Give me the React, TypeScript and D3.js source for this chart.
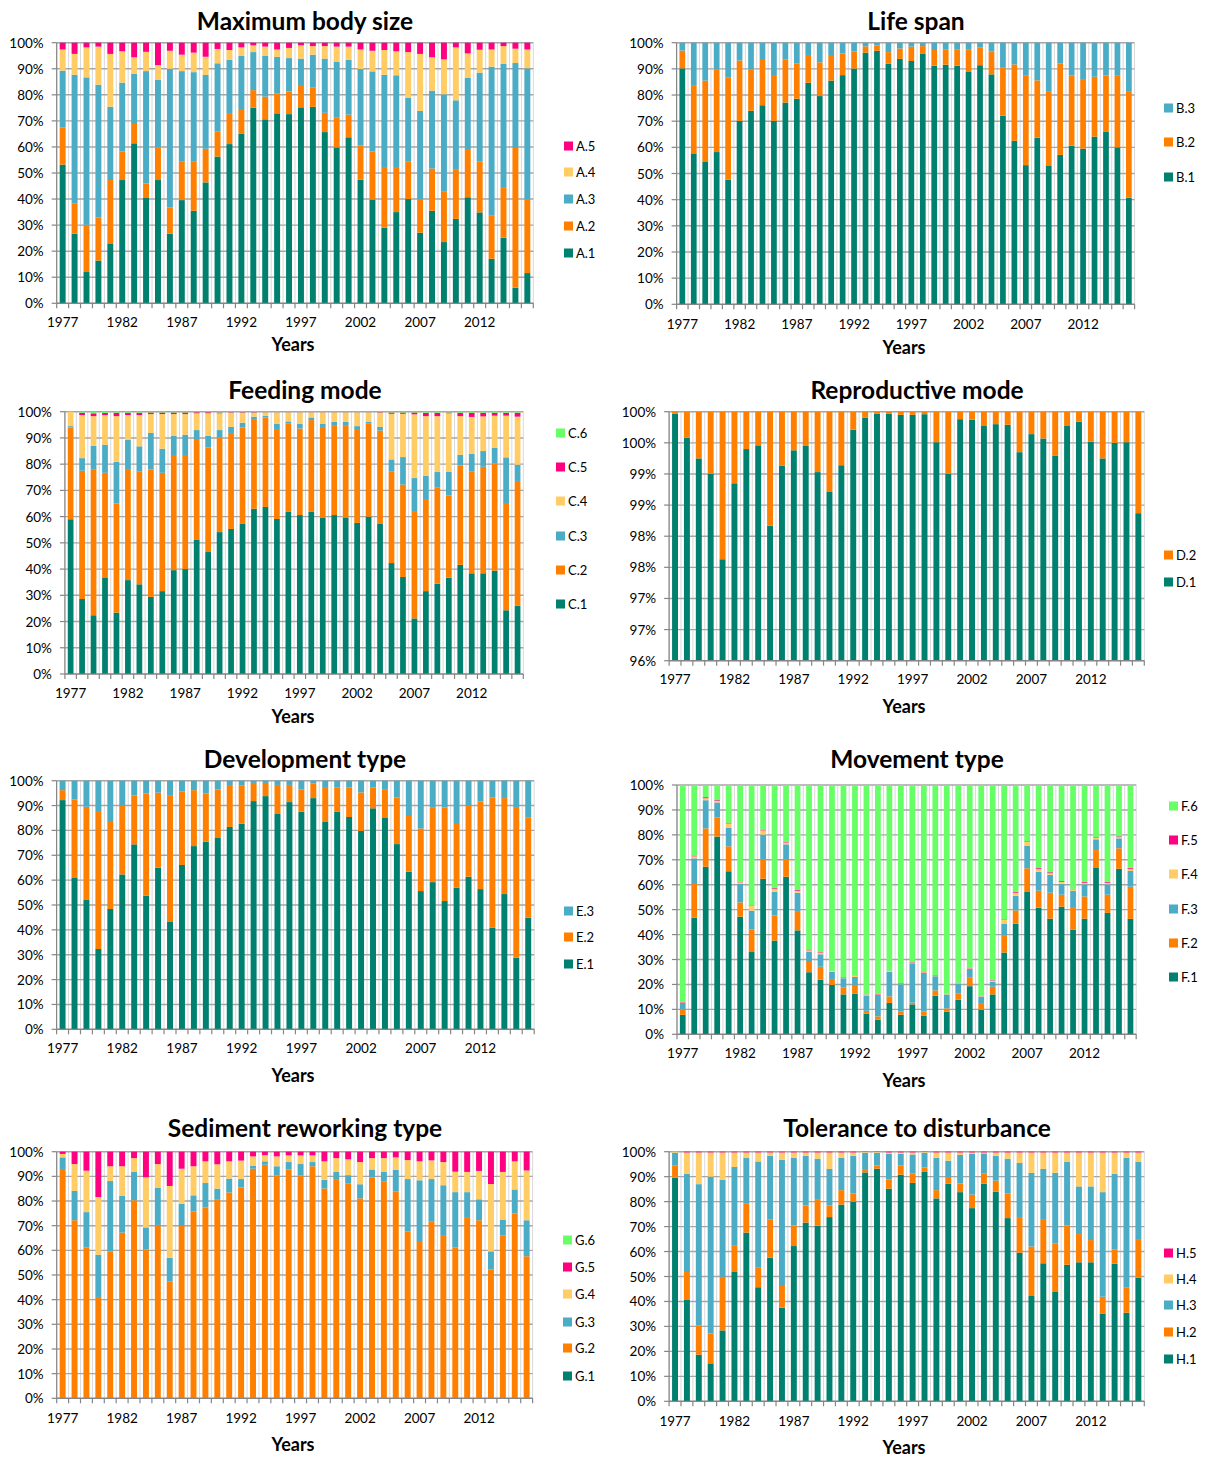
import React from 'react';
import * as d3 from 'd3';

const years = ['1977','1978','1979','1980','1981','1982','1983','1984','1985','1986','1987','1988','1989','1990','1991','1992','1993','1994','1995','1996','1997','1998','1999','2000','2001','2002','2003','2004','2005','2006','2007','2008','2009','2010','2011','2012','2013','2014','2015','2016'];
const yearLabels = ['1977','1982','1987','1992','1997','2002','2007','2012'];

// Cumulative percentage at the top of each class (last class reaches 100%)
// A: Maximum body size
const A1 = [53.2,26.7,12.0,16.4,23.0,47.3,61.4,40.4,47.3,26.7,39.6,35.5,46.4,56.3,61.1,65.0,75.1,70.6,72.9,72.6,75.2,75.4,65.7,59.8,63.7,47.4,39.8,29.0,35.0,40.0,27.1,35.5,23.5,32.4,40.7,34.9,17.1,25.2,6.0,11.6];
const A2 = [67.4,38.4,30.1,32.9,47.3,58.2,68.8,46.0,59.8,36.8,54.3,54.3,59.3,66.0,73.0,74.2,81.8,79.3,80.6,81.3,83.4,82.9,73.1,71.4,72.4,60.6,58.3,52.3,52.3,54.5,40.0,51.7,42.8,51.5,59.2,54.5,33.8,44.6,59.6,40.0];
const A3 = [89.3,87.7,86.7,83.9,75.4,84.7,88.0,89.1,85.7,90.0,89.1,88.7,87.6,92.1,93.4,94.9,96.4,94.9,94.6,94.1,93.9,95.4,93.9,92.6,93.4,89.9,89.0,87.7,87.5,78.9,73.8,81.6,80.2,77.9,86.6,88.5,90.8,91.9,92.2,90.2];
const A4 = [97.4,95.7,98.2,98.5,95.7,96.7,94.4,96.5,91.4,96.9,95.4,96.2,94.6,97.6,97.2,98.2,99.0,98.5,97.4,98.0,99.0,98.7,98.7,98.5,98.5,97.4,96.9,97.2,96.7,96.4,95.7,94.4,93.6,98.2,95.9,97.3,97.4,98.7,97.7,97.4];

// B: Life span
const B1 = [90.2,57.7,54.4,58.2,47.6,70.1,74.0,76.1,70.1,77.1,78.6,84.7,79.6,85.5,87.6,90.1,96.2,96.9,92.0,93.8,93.0,95.7,91.2,91.6,91.2,88.8,91.4,87.9,72.1,62.5,53.2,63.7,53.1,57.1,60.6,59.5,64.1,65.9,60.0,40.8];
const B2 = [97.0,83.8,85.5,89.9,86.8,93.2,89.9,93.4,87.3,93.5,92.0,95.3,92.5,95.3,95.9,96.7,98.6,99.0,96.4,97.8,98.5,98.7,97.2,97.5,97.3,97.3,98.1,96.7,90.4,91.7,87.6,85.6,81.5,92.1,87.5,86.1,87.0,87.5,87.6,81.5];

// C: Feeding mode
const C1 = [59.0,28.6,22.4,36.6,23.4,35.8,34.2,29.4,31.6,39.6,40.0,51.3,46.5,54.1,55.3,57.4,63.0,63.7,59.1,61.8,60.6,61.8,59.5,60.6,59.7,57.6,60.0,57.2,42.3,37.0,21.2,31.6,34.4,36.7,41.6,38.4,38.4,39.4,24.3,26.0];
const C2 = [94.0,77.5,78.1,76.7,65.0,77.8,77.3,78.0,76.7,83.5,83.5,89.6,86.4,90.3,91.9,94.0,97.2,97.8,93.4,95.6,93.6,96.8,94.2,94.9,94.9,93.4,95.6,92.8,77.3,72.2,61.8,66.7,71.2,68.1,79.5,77.3,79.0,80.2,65.2,73.6];
const C3 = [94.5,82.3,87.0,87.4,80.9,89.2,86.8,91.9,85.9,90.9,91.2,93.0,90.9,93.0,94.2,95.8,98.1,98.4,95.3,96.3,95.3,97.8,95.3,96.1,96.1,94.5,96.1,94.2,81.8,82.7,74.7,75.5,77.0,77.0,83.6,84.0,85.0,86.3,82.6,79.8];
const C4 = [100,98.7,98.3,98.7,98.3,98.7,98.7,99.1,99.1,99.1,99.1,99.4,99.4,99.4,99.6,99.6,99.6,99.7,99.7,99.7,99.7,99.7,99.7,99.7,99.7,99.7,99.7,99.6,99.2,99.2,99.0,98.3,98.3,99.4,98.3,98.0,98.2,98.5,98.5,98.1];
const C5 = [100,99.6,99.4,99.5,99.6,99.6,99.6,99.7,99.7,99.7,99.7,99.8,99.8,99.7,99.8,99.8,99.8,99.8,99.8,99.8,99.8,99.8,99.8,99.8,99.8,99.8,99.8,99.8,99.7,99.7,99.7,99.6,99.6,99.7,99.6,99.6,99.6,99.6,99.6,99.6];

// D: Reproductive mode
const D1 = [99.97,99.58,99.25,99.00,97.63,98.85,99.40,99.46,98.17,99.13,99.38,99.45,99.03,98.71,99.14,99.71,99.90,99.97,99.97,99.95,99.95,99.96,99.51,99.00,99.88,99.87,99.77,99.80,99.79,99.35,99.64,99.57,99.29,99.77,99.84,99.52,99.25,99.50,99.51,98.37];

// E: Development type
const E1 = [92.2,61.1,52.0,32.3,48.4,62.3,74.4,53.8,65.0,43.4,66.1,73.7,75.5,77.2,81.4,82.7,91.8,93.8,86.6,91.4,87.5,93.0,83.4,87.5,85.4,79.8,88.9,85.0,74.5,63.4,55.6,59.2,51.6,57.0,61.4,56.4,40.9,54.4,28.8,44.9];
const E2 = [96.2,92.5,89.5,87.8,83.4,89.9,94.0,94.9,95.2,94.2,95.7,96.2,94.9,96.5,97.9,98.0,99.1,99.1,98.3,98.3,96.4,98.8,97.1,97.2,97.2,95.3,97.3,96.6,93.2,85.8,80.8,89.1,89.3,82.6,89.9,91.6,93.3,93.0,89.4,85.3];

// F: Movement type
const F1 = [7.8,46.8,67.2,79.3,65.4,47.2,33.0,62.4,37.6,63.2,41.7,24.9,21.9,19.8,16.0,16.3,8.3,5.9,12.6,7.9,12.0,7.4,15.5,9.1,13.9,19.3,9.8,16.0,32.8,44.4,57.1,50.8,46.4,51.2,42.0,46.4,66.7,48.7,66.4,46.3];
const F2 = [10.0,60.3,82.6,87.0,75.4,52.9,42.1,70.1,47.7,70.1,49.1,29.0,27.1,22.2,18.7,19.4,9.4,7.2,15.2,9.1,12.7,9.1,17.6,10.4,16.3,22.9,12.2,19.1,39.8,49.7,66.6,57.6,56.8,56.0,50.7,55.3,73.9,56.0,74.6,59.2];
const F3 = [12.6,70.6,93.9,93.0,82.9,60.4,49.6,80.1,57.2,76.2,56.8,33.2,32.1,25.1,22.5,23.0,15.6,15.8,25.1,20.1,28.5,24.6,23.3,16.0,20.2,26.3,15.2,21.1,44.4,55.6,75.7,65.2,64.0,60.4,57.6,60.2,78.2,60.2,78.6,65.5];
const F4 = [12.8,71.4,94.7,93.6,84.6,61.0,51.5,81.8,58.3,76.9,57.6,33.7,32.8,25.4,22.7,23.4,15.9,16.0,25.4,20.3,28.7,24.9,23.5,16.3,20.5,26.5,15.4,21.5,45.9,56.8,77.3,66.4,64.6,61.2,58.2,60.8,78.9,60.8,79.1,66.4];
const F5 = [13.0,71.7,95.1,93.9,84.9,61.2,51.7,82.1,58.6,77.1,57.9,34.0,33.0,25.5,22.9,23.5,16.0,16.2,25.5,20.5,28.9,25.0,23.7,16.4,20.7,26.6,15.5,21.7,46.1,57.1,77.5,66.7,65.0,61.5,58.4,61.1,79.1,61.1,79.4,66.8];

// G: Sediment reworking type
const G1 = [0,0,0,0,0,0,0,0,0,0,0,0,0,0,0,0,0,0,0,0,0,0,0,0,0,0,0,0,0,0,0,0,0,0,0,0,0,0,0,0];
const G2 = [93.0,72.2,61.2,41.1,59.5,67.2,80.3,60.4,70.3,47.3,69.9,75.7,77.4,80.5,83.5,85.5,93.1,94.7,90.4,92.8,90.4,94.1,85.1,88.9,87.2,81.1,89.5,87.8,83.8,67.7,63.4,71.8,66.2,61.2,73.5,72.2,52.3,66.1,74.9,57.6];
const G3 = [97.7,84.1,75.5,58.2,88.1,82.2,91.8,69.3,85.3,57.0,78.9,82.3,87.3,85.0,89.1,88.9,94.2,96.1,94.1,95.8,95.0,95.8,88.6,91.8,90.5,86.8,92.8,91.8,92.6,88.9,88.4,88.9,86.4,83.6,83.6,80.7,59.6,72.3,84.7,72.2];
const G4 = [99.1,95.0,92.3,81.6,94.1,94.1,97.4,89.6,95.0,86.1,93.1,94.1,96.1,94.9,96.1,96.4,98.1,98.6,98.1,98.5,98.5,98.5,96.1,97.4,96.9,95.8,97.4,97.4,97.7,96.6,96.1,96.5,95.8,91.9,91.8,92.2,86.9,91.8,96.1,92.4];
const G5 = [100,100,100,100,100,100,100,100,100,100,100,100,100,100,100,100,100,100,100,100,100,100,100,100,100,100,100,100,100,100,100,100,100,100,100,100,100,100,100,100];

// H: Tolerance to disturbance
const H1 = [89.6,40.6,18.7,15.2,28.4,51.8,67.6,45.7,57.5,37.5,62.2,71.6,70.4,73.8,78.8,80.0,91.7,93.2,85.2,90.8,87.5,91.9,81.3,87.2,83.8,77.4,87.2,84.0,73.4,59.5,42.2,55.3,43.8,54.7,55.7,55.7,35.2,55.1,35.5,49.5];
const H2 = [94.4,51.8,30.4,27.2,49.9,62.3,79.4,53.5,72.9,46.2,70.4,78.5,81.0,78.5,84.6,83.3,92.7,94.5,88.9,94.5,91.3,93.7,84.6,89.9,87.3,82.8,91.2,88.4,83.3,73.8,62.0,73.0,63.3,70.4,67.0,64.6,41.9,60.9,45.5,65.0];
const H3 = [99.6,91.1,87.0,90.0,88.7,93.9,97.5,96.1,98.3,96.7,97.5,98.3,97.2,93.1,97.6,98.4,99.6,99.6,99.1,99.2,98.9,99.6,97.6,96.4,98.7,99.2,99.3,98.3,97.2,95.5,91.5,93.1,91.5,96.0,86.1,86.1,83.8,91.1,97.6,95.9];
const H4 = [100,99.7,99.7,99.7,99.7,99.7,99.7,99.7,99.7,99.7,99.7,99.7,99.7,99.7,99.7,99.7,99.9,99.9,99.7,99.7,99.7,99.9,99.7,99.7,99.7,99.7,99.7,99.7,99.7,99.7,99.7,99.7,99.7,99.7,99.7,99.7,99.7,99.7,99.7,99.7];

const TEAL = '#00806E';
const ORANGE = '#FF8000';
const BLUE = '#4BACC6';
const YELLOW = '#FFCC66';
const PINK = '#FF0080';
const GREEN = '#66FF66';

const FONT = 'Lato, "Open Sans", sans-serif';

type Panel = {
  title: string; prefix: string; tops: number[][]; colors: string[];
  domain: [number, number]; step: number;
  x0: number; x1: number; y0: number; y1: number;
  tx: number; ty: number; lx: number; lys: number[];
  labY: number; yearsX: number; yearsY: number;
};

const panels: Panel[] = [
  { title: 'Maximum body size', prefix: 'A', tops: [A1, A2, A3, A4], colors: [TEAL, ORANGE, BLUE, YELLOW, PINK],
    domain: [0, 100], step: 10, x0: 56.7, x1: 533.3, y0: 42.7, y1: 303.3, tx: 305, ty: 20,
    lx: 564, lys: [253, 226, 199, 172, 146], labY: 322, yearsX: 293, yearsY: 344 },
  { title: 'Life span', prefix: 'B', tops: [B1, B2], colors: [TEAL, ORANGE, BLUE],
    domain: [0, 100], step: 10, x0: 676.6, x1: 1134.6, y0: 42.7, y1: 304.3, tx: 916, ty: 20,
    lx: 1164, lys: [177, 142, 108], labY: 324, yearsX: 904, yearsY: 347 },
  { title: 'Feeding mode', prefix: 'C', tops: [C1, C2, C3, C4, C5], colors: [TEAL, ORANGE, BLUE, YELLOW, PINK, GREEN],
    domain: [0, 100], step: 10, x0: 64.9, x1: 523.3, y0: 411.7, y1: 674, tx: 305, ty: 389,
    lx: 556, lys: [604, 570, 536, 501, 467, 433], labY: 693, yearsX: 293, yearsY: 716 },
  { title: 'Reproductive mode', prefix: 'D', tops: [D1], colors: [TEAL, ORANGE],
    domain: [96, 100], step: 0.5, x0: 669.1, x1: 1144.3, y0: 411.7, y1: 660.7, tx: 917, ty: 389,
    lx: 1164, lys: [582, 555], labY: 679, yearsX: 904, yearsY: 706 },
  { title: 'Development type', prefix: 'E', tops: [E1, E2], colors: [TEAL, ORANGE, BLUE],
    domain: [0, 100], step: 10, x0: 56.6, x1: 534.2, y0: 780.7, y1: 1029.3, tx: 305, ty: 758,
    lx: 564, lys: [964, 937, 911], labY: 1048, yearsX: 293, yearsY: 1075 },
  { title: 'Movement type', prefix: 'F', tops: [F1, F2, F3, F4, F5], colors: [TEAL, ORANGE, BLUE, YELLOW, PINK, GREEN],
    domain: [0, 100], step: 10, x0: 677, x1: 1136.2, y0: 785, y1: 1034.3, tx: 917, ty: 758,
    lx: 1169, lys: [977, 943, 909, 874, 840, 806], labY: 1053, yearsX: 904, yearsY: 1080 },
  { title: 'Sediment reworking type', prefix: 'G', tops: [G1, G2, G3, G4, G5], colors: [TEAL, ORANGE, BLUE, YELLOW, PINK, GREEN],
    domain: [0, 100], step: 10, x0: 56.7, x1: 532.6, y0: 1151.7, y1: 1398.3, tx: 305, ty: 1127,
    lx: 563, lys: [1376, 1348, 1322, 1294, 1267, 1240], labY: 1418, yearsX: 293, yearsY: 1444 },
  { title: 'Tolerance to disturbance', prefix: 'H', tops: [H1, H2, H3, H4], colors: [TEAL, ORANGE, BLUE, YELLOW, PINK],
    domain: [0, 100], step: 10, x0: 669.1, x1: 1144.3, y0: 1151.7, y1: 1401.3, tx: 917, ty: 1127,
    lx: 1164, lys: [1359, 1332, 1305, 1279, 1253], labY: 1421, yearsX: 904, yearsY: 1447 },
];

function PanelView({ p }: { p: Panel }) {
  const x = d3.scaleBand<string>().domain(years).range([p.x0, p.x1]).paddingInner(0.5).paddingOuter(0.25);
  const y = d3.scaleLinear().domain(p.domain).range([p.y1, p.y0]);
  const nTicks = Math.round((p.domain[1] - p.domain[0]) / p.step);
  const ticks = d3.range(nTicks + 1).map(i => p.domain[0] + i * p.step);
  const stepW = (p.x1 - p.x0) / years.length;
  const bounds = d3.range(years.length + 1).map(i => p.x0 + i * stepW);
  const nClasses = p.colors.length;
  const segs: { key: string; x: number; y: number; h: number; c: string }[] = [];
  years.forEach((yr, i) => {
    let lo = 0;
    for (let k = 0; k < nClasses; k++) {
      const hi = k < p.tops.length ? p.tops[k][i] : 100;
      const a = Math.max(lo, p.domain[0]);
      const b = Math.min(hi, p.domain[1]);
      if (b > a) {
        segs.push({ key: `${yr}-${k}`, x: x(yr)!, y: y(b), h: y(a) - y(b), c: p.colors[k] });
      }
      lo = Math.max(lo, hi);
    }
  });
  const bw = x.bandwidth();
  return (
    <g>
      <text x={p.tx} y={p.ty} textAnchor="middle" dominantBaseline="central" fontFamily={FONT} fontWeight={700} fontSize={24.5} fill="#000">{p.title}</text>
      {bounds.map((bx, i) => (
        <line key={`v${i}`} x1={bx} x2={bx} y1={p.y0} y2={p.y1} stroke="#d9d9d9" strokeWidth={1} />
      ))}
      {ticks.map((t, i) => (
        <line key={`g${i}`} x1={p.x0} x2={p.x1} y1={y(t)} y2={y(t)} stroke="#a6a6a6" strokeWidth={1.4} />
      ))}
      {segs.map(s => (
        <rect key={s.key} x={s.x} y={s.y} width={bw} height={s.h} fill={s.c} />
      ))}
      <line x1={p.x0} x2={p.x0} y1={p.y0} y2={p.y1} stroke="#868686" strokeWidth={1.2} />
      <line x1={p.x0} x2={p.x1} y1={p.y1} y2={p.y1} stroke="#868686" strokeWidth={1.2} />
      {ticks.map((t, i) => (
        <line key={`yt${i}`} x1={p.x0 - 5} x2={p.x0} y1={y(t)} y2={y(t)} stroke="#868686" strokeWidth={1.2} />
      ))}
      {bounds.map((bx, i) => (
        <line key={`xt${i}`} x1={bx} x2={bx} y1={p.y1} y2={p.y1 + 5} stroke="#868686" strokeWidth={1.2} />
      ))}
      {ticks.map((t, i) => (
        <text key={`yl${i}`} x={p.x0 - 13} y={y(t)} textAnchor="end" dominantBaseline="central" fontFamily={FONT} fontSize={13.5} fill="#000">{Math.round(t)}%</text>
      ))}
      {yearLabels.map(l => (
        <text key={`xl${l}`} x={x(l)! + bw / 2} y={p.labY} textAnchor="middle" dominantBaseline="central" fontFamily={FONT} fontSize={13.5} fill="#000">{l}</text>
      ))}
      <text x={p.yearsX} y={p.yearsY} textAnchor="middle" dominantBaseline="central" fontFamily={FONT} fontWeight={700} fontSize={18} fill="#000">Years</text>
      {p.colors.map((c, k) => (
        <g key={`lg${k}`}>
          <rect x={p.lx} y={p.lys[k] - 4.5} width={9} height={9} fill={c} />
          <text x={p.lx + 12} y={p.lys[k]} dominantBaseline="central" fontFamily={FONT} fontSize={13} fill="#000">{`${p.prefix}.${k + 1}`}</text>
        </g>
      ))}
    </g>
  );
}

export default function App() {
  return (
    <svg width={1217} height={1458} viewBox="0 0 1217 1458" style={{ position: 'absolute', left: 0, top: 0, background: '#fff' }}>
      <rect x={0} y={0} width={1217} height={1458} fill="#fff" />
      {panels.map(p => <PanelView key={p.prefix} p={p} />)}
    </svg>
  );
}
